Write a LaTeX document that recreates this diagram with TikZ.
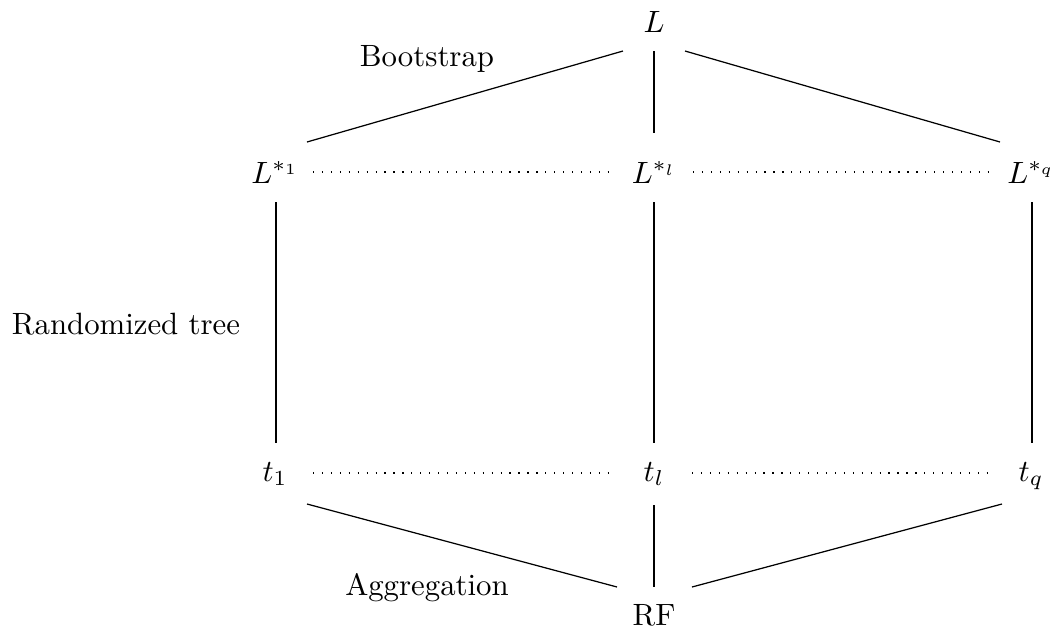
\documentclass[tikz,border=0pt]{standalone}
\begin{document}
\begin{tikzpicture}[x=0.3247pt,y=-0.3247pt,
  mnode/.style={inner sep=0pt,outer sep=0pt,anchor=base},
  lbl/.style={inner sep=0pt,anchor=base},
  link/.style={line width=0.4pt},
  dotlink/.style={line width=0.4pt,dash pattern=on 0.4pt off 2.5pt}]
\useasboundingbox (0,0) rectangle (1058,629);
% nodes
\node[mnode] (L)   at (654,32)  {$L$};
\node[mnode] (Ls1) at (275,183) {$L^{*_1}$};
\node[mnode] (Lsl) at (654,183) {$L^{*_l}$};
\node[mnode] (Lsq) at (1031,183) {$L^{*_q}$};
\node[mnode] (t1)  at (275,481) {$t_1$};
\node[mnode] (tl)  at (654,481) {$t_l$};
\node[mnode] (tq)  at (1031,481) {$t_q$};
\node[mnode] (RF)  at (654,625) {RF};
% labels
\node[lbl] (boot) at (427,66)  {Bootstrap};
\node[lbl] (rand) at (126,334) {Randomized tree};
\node[lbl] (aggr) at (427,595) {Aggregation};
% connectors
\draw[link] ([shift={(-31,19)}]L.base) -- ([shift={(32,-41)}]Ls1.base);
\draw[link] ([shift={(0,19)}]L.base) -- ([shift={(0,-50)}]Lsl.base);
\draw[link] ([shift={(31,19)}]L.base) -- ([shift={(-31,-41)}]Lsq.base);
\draw[link] ([shift={(1,19)}]Ls1.base) -- ([shift={(1,-38)}]t1.base);
\draw[link] ([shift={(0,19)}]Lsl.base) -- ([shift={(0,-38)}]tl.base);
\draw[link] ([shift={(1,19)}]Lsq.base) -- ([shift={(1,-38)}]tq.base);
\draw[link] ([shift={(32,23)}]t1.base) -- ([shift={(-37,-38)}]RF.base);
\draw[link] ([shift={(0,24)}]tl.base) -- ([shift={(0,-38)}]RF.base);
\draw[link] ([shift={(-29,23)}]tq.base) -- ([shift={(38,-38)}]RF.base);
\draw[dotlink] ([shift={(38,-11)}]Ls1.base) -- ([shift={(-46,-11)}]Lsl.base);
\draw[dotlink] ([shift={(39,-11)}]Lsl.base) -- ([shift={(-41,-11)}]Lsq.base);
\draw[dotlink] ([shift={(38,-8)}]t1.base) -- ([shift={(-46,-8)}]tl.base);
\draw[dotlink] ([shift={(38,-8)}]tl.base) -- ([shift={(-43,-8)}]tq.base);
\end{tikzpicture}
\end{document}
